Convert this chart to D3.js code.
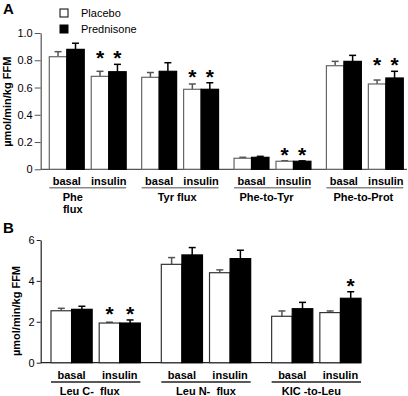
<!DOCTYPE html>
<html>
<head>
<meta charset="utf-8">
<script src="https://cdn.jsdelivr.net/npm/d3@7"></script>
<style>
  body { margin: 0; background: #fff; }
  svg { display: block; font-family: "Liberation Sans", Arial, sans-serif; }
</style>
</head>
<body>
<div id="chart"></div>
<script>
// shared
const conditions = ['basal', 'insulin'];
const treatments = ['Placebo', 'Prednisone'];

// panel A (order: group x condition)
const groupsA = ['Phe|flux', 'Tyr flux', 'Phe-to-Tyr', 'Phe-to-Prot'];
const placeboA = [0.826, 0.682, 0.675, 0.587, 0.081, 0.059, 0.760, 0.626];
const placeboErrA = [0.037, 0.037, 0.035, 0.039, 0.007, 0.004, 0.032, 0.029];
const prednisoneA = [0.880, 0.716, 0.719, 0.587, 0.088, 0.059, 0.792, 0.670];
const prednisoneErrA = [0.045, 0.054, 0.063, 0.048, 0.007, 0.003, 0.044, 0.049];
const placeboSigA = [0, 1, 0, 1, 0, 1, 0, 1];
const prednisoneSigA = [0, 1, 0, 1, 0, 1, 0, 1];
const ticksA = [0, 0.2, 0.4, 0.6, 0.8, 1.0];

// panel B
const groupsB = ['Leu C-  flux', 'Leu N-  flux', 'KIC -to-Leu'];
const placeboB = [2.54, 1.94, 4.81, 4.40, 2.27, 2.45];
const placeboErrB = [0.12, 0.04, 0.33, 0.14, 0.26, 0.08];
const prednisoneB = [2.61, 1.94, 5.27, 5.09, 2.64, 3.15];
const prednisoneErrB = [0.15, 0.15, 0.36, 0.41, 0.31, 0.32];
const placeboSigB = [0, 1, 0, 0, 0, 0];
const prednisoneSigB = [0, 1, 0, 0, 0, 1];
const ticksB = [0, 2, 4, 6];

const width = 408;
const height = 396;

const svg = d3.select('#chart')
    .append('svg')
    .attr('width', width)
    .attr('height', height);

const fill = {Placebo: '#fff', Prednisone: '#000'};

function buildRows(groups, vals) {
  const rows = [];
  groups.forEach(function(g, gi) {
    conditions.forEach(function(c, ci) {
      const i = gi * conditions.length + ci;
      rows.push({group: g, cond: c, bars: [
        {t: 'Placebo', v: vals[0][i], e: vals[1][i], sig: vals[2][i]},
        {t: 'Prednisone', v: vals[3][i], e: vals[4][i], sig: vals[5][i]}
      ]});
    });
  });
  return rows;
}

function drawPanel(p) {
  const g = svg.append('g');

  const x0 = d3.scaleBand().domain(p.groups).range(p.xRange)
      .paddingInner(p.padGroup).paddingOuter(0);
  const x1 = d3.scaleBand().domain(conditions).range([0, x0.bandwidth()])
      .paddingInner(p.padCond).paddingOuter(0);
  const x2 = d3.scaleBand().domain(treatments).range([0, x1.bandwidth()]);
  const y = d3.scaleLinear().domain(p.yDomain).range(p.yRange);

  // y axis
  const yAxis = d3.axisLeft(y)
      .tickValues(p.ticks)
      .tickSize(p.tickLen)
      .tickSizeOuter(0)
      .tickPadding(2)
      .tickFormat(p.fmt);
  const ya = g.append('g')
      .attr('transform', 'translate(' + p.axisX + ',0)')
      .call(yAxis);
  ya.select('.domain').attr('stroke', p.axisColor).attr('stroke-width', 1.2);
  ya.selectAll('.tick line').attr('stroke', p.axisColor);
  ya.selectAll('.tick text')
      .attr('font-size', 11)
      .attr('font-family', '"Liberation Sans", Arial, sans-serif')
      .attr('fill', '#000');

  // x baseline
  g.append('line')
      .attr('x1', p.axisX).attr('x2', p.axisEnd)
      .attr('y1', y(0)).attr('y2', y(0))
      .attr('stroke', p.axisColor)
      .attr('stroke-width', 1.2);

  const rows = buildRows(p.groups, p.vals);

  const cell = g.selectAll('.cell')
      .data(rows)
      .enter()
      .append('g')
      .attr('class', 'cell')
      .attr('transform', function(d) {
        return 'translate(' + (x0(d.group) + x1(d.cond)) + ',0)';
      });

  const bar = cell.selectAll('.bar')
      .data(function(d) {
        return d.bars;
      })
      .enter()
      .append('g')
      .attr('class', 'bar');

  bar.append('line')
      .attr('x1', function(d) { return x2(d.t) + x2.bandwidth() / 2; })
      .attr('x2', function(d) { return x2(d.t) + x2.bandwidth() / 2; })
      .attr('y1', function(d) { return y(d.v); })
      .attr('y2', function(d) { return y(d.v + d.e); })
      .attr('stroke', function(d) { return d.t === 'Placebo' ? '#555' : '#000'; })
      .attr('stroke-width', 1.5);

  bar.append('line')
      .attr('x1', function(d) { return x2(d.t) + x2.bandwidth() / 2 - 3.5; })
      .attr('x2', function(d) { return x2(d.t) + x2.bandwidth() / 2 + 3.5; })
      .attr('y1', function(d) { return y(d.v + d.e); })
      .attr('y2', function(d) { return y(d.v + d.e); })
      .attr('stroke', function(d) { return d.t === 'Placebo' ? '#555' : '#000'; })
      .attr('stroke-width', 1.5);

  bar.append('rect')
      .attr('x', function(d) { return x2(d.t); })
      .attr('width', x2.bandwidth())
      .attr('y', function(d) { return y(d.v); })
      .attr('height', function(d) { return y(0) - y(d.v); })
      .attr('fill', function(d) { return fill[d.t]; })
      .attr('stroke', function(d) { return d.t === 'Placebo' ? p.barStroke : '#000'; })
      .attr('stroke-width', 1.2);

  // significance stars, one height per pair
  cell.each(function(d) {
    const top = d3.min(d.bars, function(b) { return y(b.v + b.e); });
    d3.select(this).selectAll('.star')
        .data(d.bars.filter(function(b) { return b.sig; }))
        .enter()
        .append('text')
        .attr('class', 'star')
        .attr('x', function(b) { return x2(b.t) + x2.bandwidth() / 2; })
        .attr('y', top + 1)
        .attr('text-anchor', 'middle')
        .attr('font-size', 21)
        .attr('font-weight', 'bold')
        .text('*');
  });

  // condition labels
  cell.append('text')
      .attr('x', x1.bandwidth() / 2)
      .attr('y', p.condY)
      .attr('text-anchor', 'middle')
      .attr('font-size', 11)
      .attr('font-weight', 'bold')
      .text(function(d) { return d.cond; });

  // group underline + label
  const grp = g.selectAll('.grp')
      .data(p.groups)
      .enter()
      .append('g')
      .attr('class', 'grp')
      .attr('transform', function(d) { return 'translate(' + x0(d) + ',0)'; });

  grp.append('line')
      .attr('x1', 0).attr('x2', x0.bandwidth())
      .attr('y1', p.lineY).attr('y2', p.lineY)
      .attr('stroke', p.lineColor)
      .attr('stroke-width', 1.5);

  grp.append('text')
      .attr('text-anchor', 'middle')
      .attr('font-size', 11)
      .attr('font-weight', 'bold')
      .attr('xml:space', 'preserve')
      .selectAll('tspan')
      .data(function(d, i) {
        return d.split('|').map(function(s) { return {s: s, dx: p.labelShift[i]}; });
      })
      .enter()
      .append('tspan')
      .attr('x', function(d) { return x0.bandwidth() / 2 + d.dx; })
      .attr('y', function(d, i) { return p.groupY + i * 12.6; })
      .text(function(d) { return d.s; });

  // y label
  g.append('text')
      .attr('transform', 'translate(' + p.labelX + ',' + p.labelY + ') rotate(-90)')
      .attr('text-anchor', 'middle')
      .attr('font-size', 11)
      .attr('font-weight', 'bold')
      .text('\u00b5mol/min/kg FFM');

  // panel letter
  g.append('text')
      .attr('x', 3)
      .attr('y', p.letterY)
      .attr('font-size', 15)
      .attr('font-weight', 'bold')
      .text(p.letter);
}

drawPanel({
  letter: 'A', letterY: 14,
  groups: groupsA,
  vals: [placeboA, placeboErrA, placeboSigA, prednisoneA, prednisoneErrA, prednisoneSigA],
  xRange: [49.3, 403.3], padGroup: 0.1676, padCond: 0.1667,
  yDomain: [0, 1], yRange: [169.3, 33], ticks: ticksA, tickLen: 6,
  fmt: function(d) { return d === 0 ? '0' : d3.format('.1f')(d); },
  axisX: 40.7, axisEnd: 407, axisColor: '#555', barStroke: '#666',
  condY: 185, lineY: 187.8, lineColor: '#888', groupY: 200.7,
  labelShift: [-15, -3, -6, -1.5],
  labelX: 11, labelY: 101.7
});

drawPanel({
  letter: 'B', letterY: 233,
  groups: groupsB,
  vals: [placeboB, placeboErrB, placeboSigB, prednisoneB, prednisoneErrB, prednisoneSigB],
  xRange: [51, 361], padGroup: 0.19, padCond: 0.146,
  yDomain: [0, 6], yRange: [362.7, 240], ticks: ticksB, tickLen: 4,
  fmt: d3.format('d'),
  axisX: 40.7, axisEnd: 361, axisColor: '#222', barStroke: '#333',
  condY: 379.3, lineY: 382, lineColor: '#222', groupY: 395.3,
  labelShift: [-6, 0, -5],
  labelX: 20, labelY: 311
});

// legend
const legend = svg.selectAll('.legend')
    .data(treatments)
    .enter()
    .append('g')
    .attr('class', 'legend')
    .attr('transform', function(d, i) {
      return 'translate(60,' + (9 + i * 16) + ')';
    });

legend.append('rect')
    .attr('width', 8)
    .attr('height', 8)
    .attr('fill', function(d) { return fill[d]; })
    .attr('stroke', '#000')
    .attr('stroke-width', 1);

legend.append('text')
    .attr('x', 21)
    .attr('y', 8.3)
    .attr('font-size', 11)
    .text(function(d) { return d; });
</script>
</body>
</html>
